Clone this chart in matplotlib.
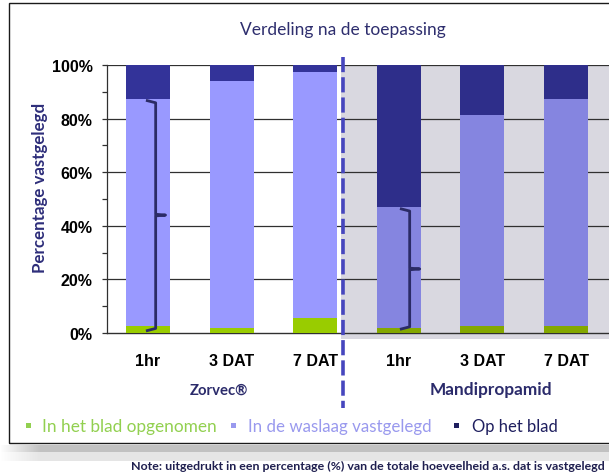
import numpy as np
import matplotlib
matplotlib.use("Agg")
import matplotlib.pyplot as plt
from matplotlib import font_manager
from matplotlib.patches import Rectangle
from matplotlib.lines import Line2D
from matplotlib.transforms import blended_transform_factory

# ---------------- data ----------------
categories = ['1hr', '3 DAT', '7 DAT', '1hr', '3 DAT', '7 DAT']
groups = ['Zorvec®', 'Mandipropamid']
opgenomen = [2.6, 1.8, 5.7, 1.8, 2.6, 2.6]          # In het blad opgenomen
waslaag = [84.7, 92.2, 91.8, 45.3, 78.7, 84.7]      # In de waslaag vastgelegd
op_blad = [100 - a - b for a, b in zip(opgenomen, waslaag)]  # Op het blad (rest to 100 %)
yticks = [0, 20, 40, 60, 80, 100]
legend_labels = ['In het blad opgenomen', 'In de waslaag vastgelegd', 'Op het blad']
title = 'Verdeling na de toepassing'
ylabel = 'Percentage vastgelegd'
note = 'Note: uitgedrukt in een percentage (%) van de totale hoeveelheid a.s. dat is vastgelegd'

# ---------------- fonts ----------------
avail = {f.name for f in font_manager.fontManager.ttflist}
narrow = 'Liberation Sans Narrow' if 'Liberation Sans Narrow' in avail else 'Liberation Sans'
calib = 'Lato' if 'Lato' in avail else 'DejaVu Sans'

W, H = 609, 477
fig = plt.figure(figsize=(W / 100, H / 100), dpi=100)
fig.patch.set_facecolor('white')

def fx(px):
    return px / W

def fy(py):
    return 1 - py / H

ax_l, ax_r, ax_t, ax_b = 107, 609, 66, 334
ax = fig.add_axes([fx(ax_l), fy(ax_b), fx(ax_r) - fx(ax_l), fy(ax_t) - fy(ax_b)])
ax.patch.set_visible(False)

# grey background behind Mandipropamid
fig.patches.append(Rectangle((fx(341), fy(340)), fx(W) - fx(341) + 0.01, (340 - 66) / H,
                             transform=fig.transFigure, facecolor='#D9D8E0',
                             edgecolor='none', zorder=-5))

x = np.arange(len(categories))
bw = 0.526
col_green = ['#99CC00'] * 3 + ['#84A800'] * 3
col_light = ['#9999FF'] * 3 + ['#8585E0'] * 3
col_dark = ['#333399'] * 3 + ['#2E2E8A'] * 3

b1 = np.array(opgenomen)
b2 = b1 + np.array(waslaag)
ax.bar(x, opgenomen, bw, color=col_green, zorder=3)
ax.bar(x, waslaag, bw, bottom=b1, color=col_light, zorder=3)
ax.bar(x, op_blad, bw, bottom=b2, color=col_dark, zorder=3)

ax.set_xlim(-0.49, 5.514)
ax.set_ylim(0, 100)

# grid / spines / ticks
for v in yticks[1:]:
    ax.axhline(v, color='#303030', lw=0.9, zorder=2)
for s in ['top', 'right']:
    ax.spines[s].set_visible(False)
ax.spines['left'].set_color('#303030')
ax.spines['bottom'].set_color('#303030')
ax.spines['left'].set_linewidth(0.9)
ax.spines['bottom'].set_linewidth(1.0)
ax.set_yticks(yticks)
ax.set_yticks([10, 30, 50, 70, 90], minor=True)
ax.set_yticklabels([f'{v}%' for v in yticks], fontfamily=narrow, fontweight='bold',
                   fontsize=11.5, color='black')
ax.tick_params(axis='y', which='both', direction='out', length=3.5, width=0.9,
               color='#303030', pad=7)
ax.set_xticks([])

# category labels
tr = blended_transform_factory(ax.transData, fig.transFigure)
for xi, c in zip(x, categories):
    ax.text(xi, fy(362), c, transform=tr, ha='center', va='center',
            fontfamily=narrow, fontweight='bold', fontsize=11.5, color='black')

# braces
def brace(xc, dx_line, dx_hook, dx_tip, ytop, ybot, ytip):
    xs = [xc + dx_hook, xc + dx_line, xc + dx_line, xc + dx_tip, xc + dx_line, xc + dx_line, xc + dx_hook]
    ys = [ytop, ytop - 0.8, ytip + 0.3, ytip, ytip - 0.3, ybot + 0.8, ybot]
    ax.plot(xs, ys, color='#2B2B66', lw=2.0, solid_joinstyle='round', zorder=5, clip_on=False)

brace(0, 0.092, -0.008, 0.21, b2[0] - 0.6, 0.9, 44)
brace(3, 0.13, 0.03, 0.25, b2[3] - 0.8, 1.5, 23.9)

# dashed separator
fig.lines.append(Line2D([fx(343), fx(343)], [fy(58), fy(409)], transform=fig.transFigure,
                        color='#4646BE', lw=2.6, dashes=(4.2, 1.4), zorder=10))

# texts
texts = []
t_title = fig.text(fx(343), fy(30), title, ha='center', va='center', fontfamily=calib,
                   fontsize=11, color='#2E2E6E')
texts.append((t_title, 206))
t_y = fig.text(fx(40), fy(188), ylabel, ha='center', va='center', rotation=90,
               fontfamily=calib, fontweight='bold', fontsize=11, color='#2E2E7A')
texts.append((t_y, None, 169))
t_g1 = fig.text(fx(219), fy(391), groups[0], ha='center', va='center', fontfamily=calib,
                fontweight='bold', fontsize=11, color='#2B2B6B')
texts.append((t_g1, 58))
t_g2 = fig.text(fx(491), fy(390), groups[1], ha='center', va='center', fontfamily=calib,
                fontweight='bold', fontsize=11, color='#2B2B6B')
texts.append((t_g2, 122))

leg_cols = ['#92D050', '#9999EE', '#1F1F5F']
leg_marker_x = [28, 233, 456]
leg_text_x = [42, 248, 472]
leg_w = [175, 184, 86]
for lbl, c, mx, tx, w in zip(legend_labels, leg_cols, leg_marker_x, leg_text_x, leg_w):
    fig.patches.append(Rectangle((fx(mx - 2.5), fy(426 + 2.5)), 5 / W, 5 / H,
                                 transform=fig.transFigure, facecolor=c, edgecolor='none'))
    t = fig.text(fx(tx), fy(427), lbl, ha='left', va='center', fontfamily=calib,
                 fontsize=11, color=c)
    texts.append((t, w))

t_note = fig.text(fx(605), fy(466.5), note, ha='right', va='center', fontfamily=calib,
                  fontweight='bold', fontsize=7, color='#1F1F4F')
texts.append((t_note, 480))

# fit text sizes to measured widths in the reference
fig.canvas.draw()
r = fig.canvas.get_renderer()
for item in texts:
    t = item[0]
    bb = t.get_window_extent(r)
    if len(item) == 2:
        t.set_fontsize(t.get_fontsize() * item[1] / bb.width)
    else:
        t.set_fontsize(t.get_fontsize() * item[2] / bb.height)

# outer box
fig.patches.append(Rectangle((fx(9), fy(444)), 1.0, (444 - 4) / H, transform=fig.transFigure,
                             fill=False, edgecolor='#1A1A1A', lw=1.0, zorder=20))

# shadow under box
sh = np.ones((16, W, 3))
rowv = np.array([0.76] * 7 + [0.90] * 9)
ramp = np.clip(np.arange(W) / 40.0, 0, 1)
for i in range(16):
    sh[i, :, :] = (1 - ramp[:, None] * (1 - rowv[i]))
sax = fig.add_axes([0, fy(462), 1, 16 / H])
sax.imshow(sh, aspect='auto', interpolation='nearest')
sax.axis('off')

fig.savefig('out.png', dpi=100)
